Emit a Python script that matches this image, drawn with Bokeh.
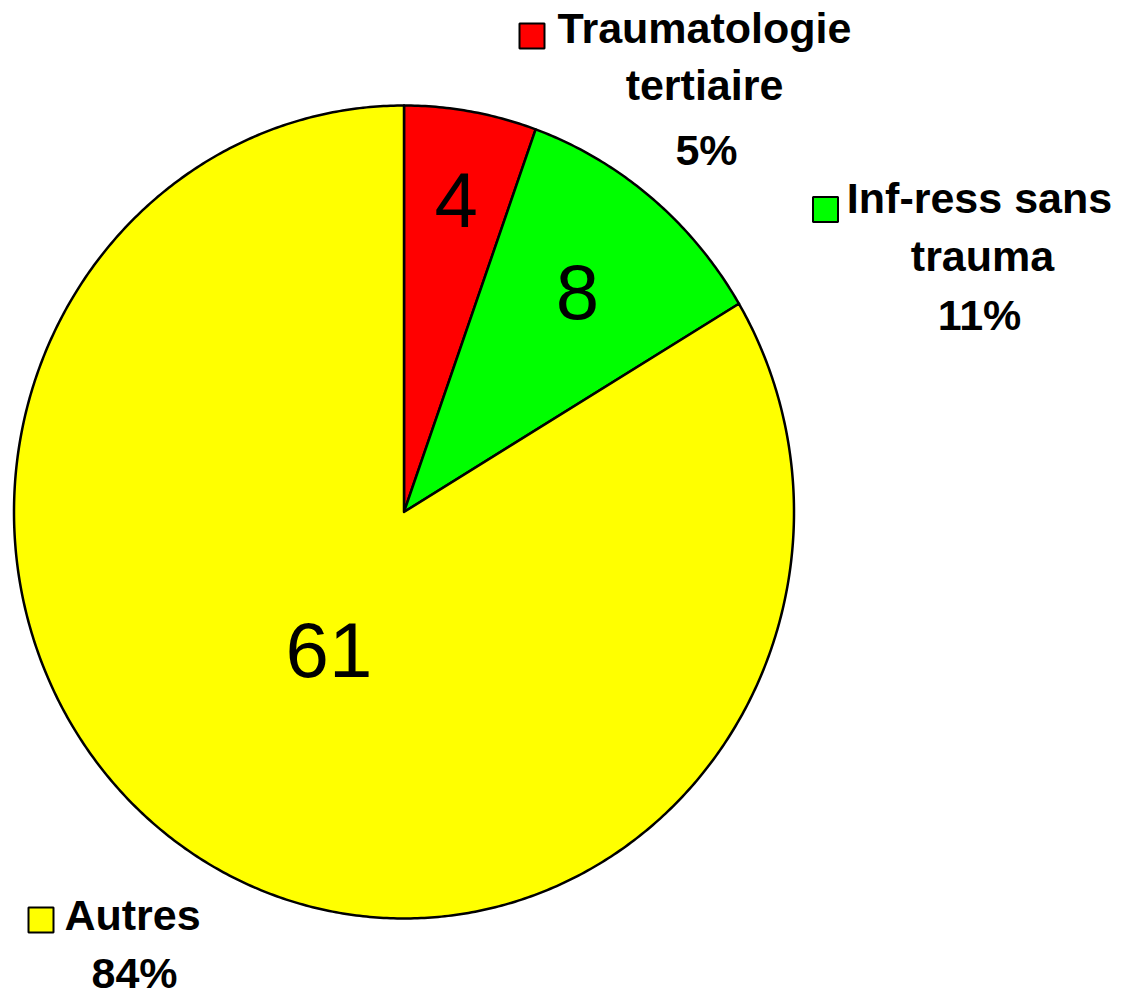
import numpy as np
from bokeh.plotting import figure
from bokeh.models import Range1d
from bokeh.embed import file_html
from bokeh.resources import INLINE
from bokeh.core.properties import value

# ---------------- data ----------------
categories = ["Traumatologie tertiaire", "Inf-ress sans trauma", "Autres"]
counts = [4, 8, 61]
percent_labels = ["5%", "11%", "84%"]
label_lines = [["Traumatologie", "tertiaire"], ["Inf-ress sans", "trauma"], ["Autres"]]
colors = ["#FF0000", "#00FF00", "#FFFF00"]

# ---------------- layout (pixels in the picture) ----------------
W, H, OFF = 1119, 998, 0
CX, CY = 403.5, 511.5      # pie centre
RX, RY = 390.0, 406.5      # pie radii (pixels)
count_label_radius = [0.78, 0.70, 0.39]
label_text_x = [[704, 704, 706], [979, 982, 979], [132, 134]]
label_base_y = [[27, 84, 149], [197, 255, 314], [914, 972]]
square_pos = [(531.5, 35.5), (825, 209), (40.5, 919.5)]


def dx(px):
    return (px - CX) / RX


def dy(py):
    return (CY - py) / RY


p = figure(width=W, height=H, output_backend="svg", toolbar_location=None,
           x_range=Range1d(dx(OFF), dx(OFF + W)), y_range=Range1d(dy(OFF + H), dy(OFF)),
           x_axis_type=None, y_axis_type=None, min_border=0,
           outline_line_color=None, background_fill_color="white",
           border_fill_color="white")
p.grid.visible = False

total = float(sum(counts))
xs, ys, mids = [], [], []
cum = 0.0
for c in counts:
    a0 = np.pi / 2 - 2 * np.pi * cum / total
    a1 = np.pi / 2 - 2 * np.pi * (cum + c) / total
    n = max(int(abs(a1 - a0) / (2 * np.pi) * 720), 8)
    t = np.linspace(a0, a1, n)
    xs.append([0.0] + list(np.cos(t)) + [0.0])
    ys.append([0.0] + list(np.sin(t)) + [0.0])
    mids.append((a0 + a1) / 2)
    cum += c

p.patches(xs=xs, ys=ys, fill_color=colors, line_color="black", line_width=2.5,
          line_join="round")

# counts inside slices
cx = [r * np.cos(m) for r, m in zip(count_label_radius, mids)]
cy = [r * np.sin(m) for r, m in zip(count_label_radius, mids)]
p.text(x=cx, y=cy, text=[str(c) for c in counts], text_align="center",
       text_baseline="middle", text_font=value("Liberation Sans"),
       text_font_size="78px", text_color="black")

# outer labels
tx, ty, tt = [], [], []
for i in range(len(categories)):
    lines = label_lines[i] + [percent_labels[i]]
    for j, line in enumerate(lines):
        tx.append(dx(label_text_x[i][j]))
        ty.append(dy(label_base_y[i][j]))
        tt.append(line)
p.text(x=tx, y=ty, text=tt, text_align="center", text_baseline="alphabetic",
       text_font=value("Liberation Sans"), text_font_style="bold",
       text_font_size="43px", text_color="black")

p.scatter(x=[dx(s[0]) for s in square_pos], y=[dy(s[1]) for s in square_pos],
          marker="square", size=25, fill_color=colors, line_color="black",
          line_width=2)

open("out.html", "w").write(file_html(p, INLINE))
